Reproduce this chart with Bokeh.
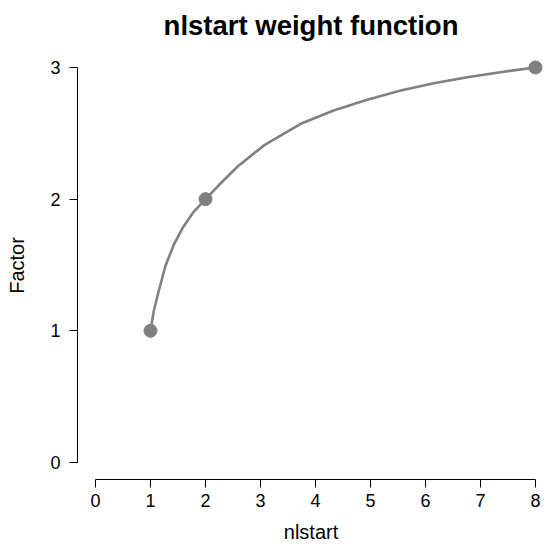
from bokeh.plotting import figure
from bokeh.models import Range1d, FixedTicker
from bokeh.embed import file_html
from bokeh.resources import INLINE

# curve
curve_x = [1.0, 1.06, 1.13, 1.27, 1.42, 1.59, 1.77, 2.0, 2.3, 2.59, 3.07,
           3.73, 4.33, 4.94, 5.55, 6.15, 6.76, 7.36, 8.0]
curve_y = [1.0, 1.15, 1.27, 1.49, 1.65, 1.785, 1.895, 2.0, 2.13, 2.25, 2.41,
           2.572, 2.673, 2.754, 2.825, 2.88, 2.926, 2.964, 3.0]

# marked points
pts_x = [1, 2, 8]
pts_y = [1, 2, 3]

x_ticks = [0, 1, 2, 3, 4, 5, 6, 7, 8]
y_ticks = [0, 1, 2, 3]

FONT = "Liberation Sans"
GREY = "#808080"

p = figure(
    width=544, height=548,
    output_backend="svg", toolbar_location=None,
    x_range=Range1d(-0.327, 8.164), y_range=Range1d(-0.129, 3.121),
    title="nlstart weight function",
    x_axis_label="nlstart", y_axis_label="Factor",
    min_border_left=77, min_border_right=0,
    min_border_top=51, min_border_bottom=69,
)

p.title.align = "center"
p.title.vertical_align = "top"
p.title.text_font = FONT
p.title.text_font_size = "27.5px"
p.title.text_font_style = "bold"
p.title.text_color = "black"
p.title.standoff = 18

p.grid.visible = False
p.outline_line_color = None
p.background_fill_color = "white"
p.border_fill_color = "white"

p.xaxis.ticker = FixedTicker(ticks=x_ticks)
p.yaxis.ticker = FixedTicker(ticks=y_ticks)
p.xaxis.bounds = (0, 8)
p.yaxis.bounds = (0, 3)

for ax in (p.xaxis, p.yaxis):
    ax.major_tick_in = 0
    ax.major_tick_out = 8
    ax.minor_tick_in = 0
    ax.minor_tick_out = 0
    ax.axis_line_color = "black"
    ax.major_tick_line_color = "black"
    ax.major_label_text_font = FONT
    ax.major_label_text_font_size = "18px"
    ax.major_label_text_color = "black"
    ax.axis_label_text_font = FONT
    ax.axis_label_text_font_size = "20px"
    ax.axis_label_text_font_style = "normal"
    ax.axis_label_text_color = "black"

p.xaxis.major_label_standoff = 6
p.yaxis.major_label_standoff = 9
p.xaxis.axis_label_standoff = 11
p.yaxis.axis_label_standoff = 19

p.line(curve_x, curve_y, line_color=GREY, line_width=2.6)
p.scatter(pts_x, pts_y, size=13, color=GREY)

open("out.html", "w").write(file_html(p, INLINE))
